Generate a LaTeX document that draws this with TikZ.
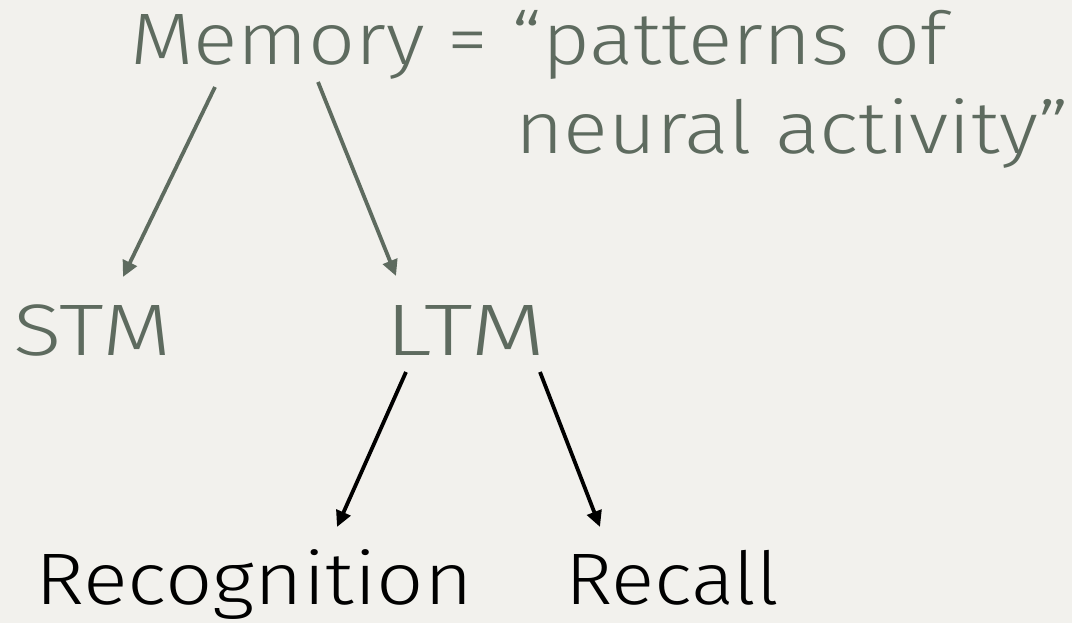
\documentclass[tikz,border=0pt]{standalone}
\usepackage{fontspec}
\setmainfont{Fira Sans Light}
\usetikzlibrary{arrows.meta}
\definecolor{bg}{HTML}{F2F1ED}
\definecolor{sage}{HTML}{5E6B5F}
\tikzset{
  lbl/.style={inner sep=0pt, anchor=base west, font=\fontsize{73}{88}\selectfont},
  grey/.style={lbl, text=sage},
  blk/.style={lbl, text=black, font=\fontsize{73}{88}\selectfont},
  garrow/.style={draw=sage, line width=3.8pt, -{Triangle[length=16pt,width=15pt]}},
  barrow/.style={draw=black, line width=3.8pt, -{Triangle[length=16pt,width=15pt]}}
}
\begin{document}
\begin{tikzpicture}[x=1pt,y=-1pt]
\fill[bg] (0,0) rectangle (1072,623);
\useasboundingbox (0,0) rectangle (1072,623);
\node[grey] (mem) at (130,65) {\scalebox{1.13}[1]{Memory = “patterns of}};
\node[grey] (mem2) at (515,154) {\scalebox{1.14}[1]{neural activity”}};
\node[grey] (stm) at (13,355) {\scalebox{1.23}[1]{STM}};
\node[grey] (ltm) at (385,355) {\scalebox{1.34}[1]{LTM}};
\node[blk] (rec) at (35,604) {\scalebox{1.14}[1]{Recognition}};
\node[blk] (rcl) at (565,604) {\scalebox{1.1}[1]{Recall}};
\draw[garrow] ([shift={(85,22)}]mem.base west) -- ([shift={(110,-78)}]stm.base west);
\draw[garrow] ([shift={(188,17)}]mem.base west) -- ([shift={(11,-79)}]ltm.base west);
\draw[barrow] ([shift={(21,17)}]ltm.base west) -- ([shift={(302,-77)}]rec.base west);
\draw[barrow] ([shift={(155,17)}]ltm.base west) -- ([shift={(35,-77)}]rcl.base west);
\end{tikzpicture}
\end{document}
